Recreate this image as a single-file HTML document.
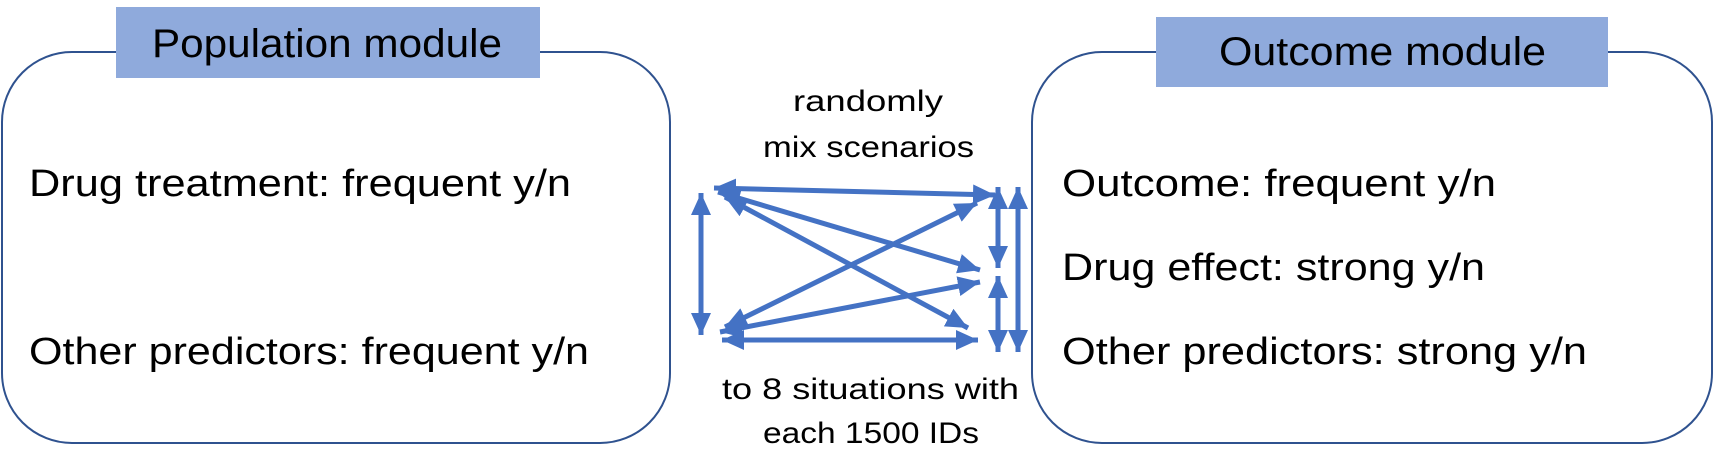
<!DOCTYPE html>
<html><head><meta charset="utf-8"><style>
html,body{margin:0;padding:0;background:#fff;}
svg{display:block;}
text{font-family:"Liberation Sans",sans-serif;fill:#000;}
</style></head><body>
<svg width="1731" height="473" viewBox="0 0 1731 473" xmlns="http://www.w3.org/2000/svg">
<defs>
<marker id="a" markerUnits="userSpaceOnUse" markerWidth="24" markerHeight="20" refX="22" refY="10" orient="auto-start-reverse">
<path d="M0,0 L22,10 L0,20 Z" fill="#4472C4"/>
</marker>
</defs>
<rect x="2" y="52" width="668" height="391" rx="70" ry="70" fill="#fff" stroke="#2F528F" stroke-width="2"/>
<rect x="1032" y="52" width="680" height="391" rx="70" ry="70" fill="#fff" stroke="#2F528F" stroke-width="2"/>
<rect x="116" y="7" width="424" height="71" fill="#8FAADC"/>
<rect x="1156" y="17" width="452" height="70" fill="#8FAADC"/>
<text x="152" y="57" font-size="40" textLength="350" lengthAdjust="spacingAndGlyphs">Population module</text>
<text x="1219" y="65" font-size="40" textLength="327" lengthAdjust="spacingAndGlyphs">Outcome module</text>
<text x="29" y="196" font-size="38" textLength="542" lengthAdjust="spacingAndGlyphs">Drug treatment: frequent y/n</text>
<text x="29" y="364" font-size="38" textLength="560" lengthAdjust="spacingAndGlyphs">Other predictors: frequent y/n</text>
<text x="1062" y="196" font-size="38" textLength="434" lengthAdjust="spacingAndGlyphs">Outcome: frequent y/n</text>
<text x="1062" y="280" font-size="38" textLength="423" lengthAdjust="spacingAndGlyphs">Drug effect: strong y/n</text>
<text x="1062" y="364" font-size="38" textLength="525" lengthAdjust="spacingAndGlyphs">Other predictors: strong y/n</text>
<text x="793" y="111" font-size="30" textLength="150" lengthAdjust="spacingAndGlyphs">randomly</text>
<text x="763" y="157" font-size="30" textLength="211" lengthAdjust="spacingAndGlyphs">mix scenarios</text>
<text x="722" y="399" font-size="30" textLength="297" lengthAdjust="spacingAndGlyphs">to 8 situations with</text>
<text x="763" y="443" font-size="30" textLength="216" lengthAdjust="spacingAndGlyphs">each 1500 IDs</text>
<g stroke="#4472C4" stroke-width="5" fill="none" marker-start="url(#a)" marker-end="url(#a)">
<line x1="714" y1="188" x2="995" y2="195"/>
<line x1="718" y1="192" x2="980" y2="270"/>
<line x1="725" y1="197" x2="968" y2="328"/>
<line x1="977" y1="203" x2="725" y2="327"/>
<line x1="980" y1="282" x2="720" y2="332"/>
<line x1="722" y1="340" x2="978" y2="340"/>
<line x1="701" y1="193" x2="701" y2="335"/>
<line x1="998" y1="187" x2="998" y2="268"/>
<line x1="998" y1="276" x2="998" y2="352"/>
<line x1="1018" y1="187" x2="1018" y2="352"/>
</g>
</svg>
</body></html>
